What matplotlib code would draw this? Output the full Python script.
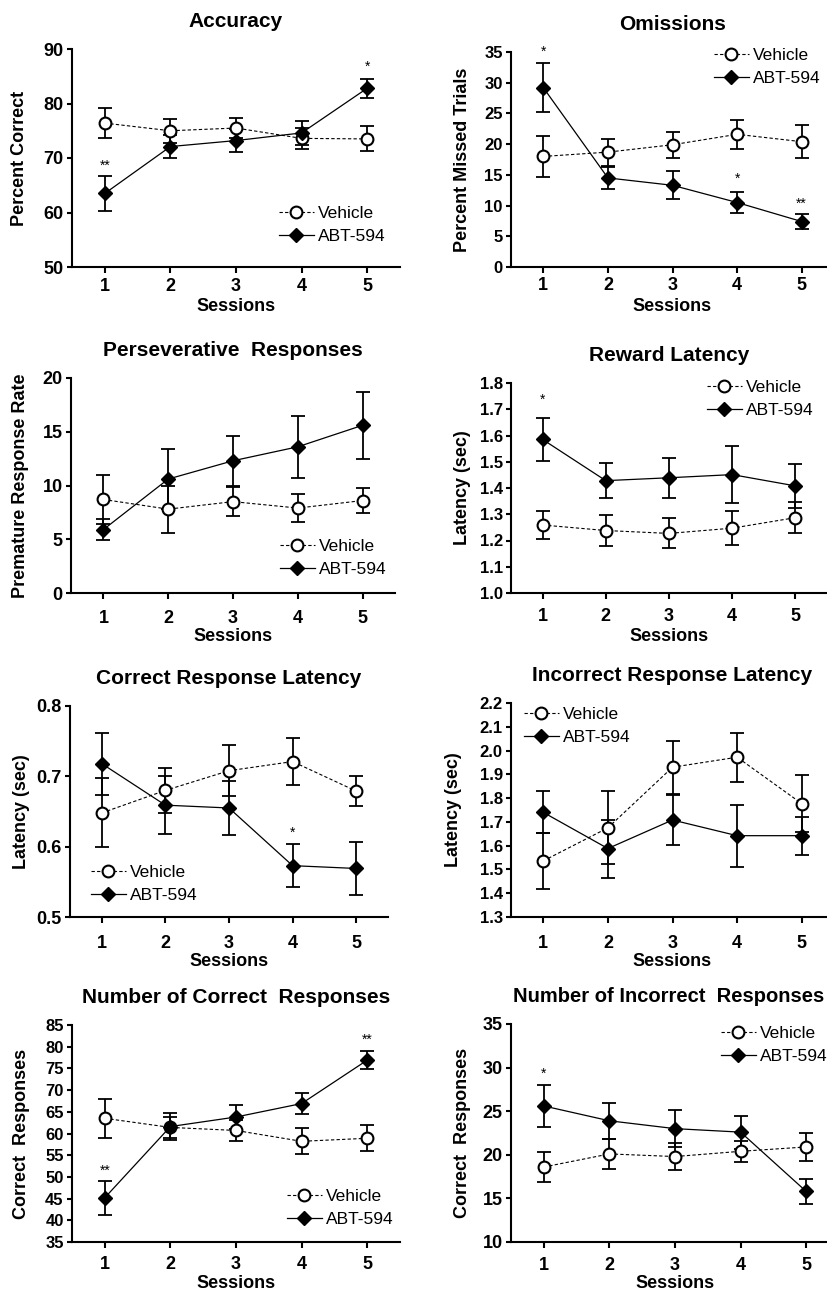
import matplotlib.pyplot as plt

plt.rcParams['font.family'] = ['Liberation Sans', 'DejaVu Sans']

sessions = [1, 2, 3, 4, 5]

titles = ["Accuracy", "Omissions", "Perseverative  Responses", "Reward Latency",
          "Correct Response Latency", "Incorrect Response Latency",
          "Number of Correct  Responses", "Number of Incorrect  Responses"]
ylabels = ["Percent Correct", "Percent Missed Trials", "Premature Response Rate",
           "Latency (sec)", "Latency (sec)", "Latency (sec)",
           "Correct  Responses", "Correct  Responses"]

vehicle_mean = [
    [76.4, 75.0, 75.5, 73.6, 73.5],
    [18.0, 18.7, 19.9, 21.6, 20.4],
    [8.7, 7.8, 8.5, 7.9, 8.6],
    [1.259, 1.238, 1.227, 1.247, 1.287],
    [0.648, 0.680, 0.708, 0.721, 0.679],
    [1.536, 1.675, 1.930, 1.972, 1.777],
    [63.5, 61.4, 60.7, 58.2, 58.9],
    [18.6, 20.1, 19.8, 20.4, 20.9],
]
vehicle_sem = [
    [2.7, 2.2, 1.8, 1.9, 2.3],
    [3.4, 2.2, 2.1, 2.4, 2.65],
    [2.25, 2.2, 1.35, 1.3, 1.2],
    [0.054, 0.058, 0.057, 0.065, 0.06],
    [0.049, 0.032, 0.036, 0.033, 0.021],
    [0.118, 0.153, 0.112, 0.103, 0.12],
    [4.5, 2.5, 2.5, 3.0, 3.0],
    [1.7, 1.75, 1.5, 1.2, 1.65],
]
abt_mean = [
    [63.5, 72.1, 73.2, 74.6, 82.8],
    [29.2, 14.5, 13.3, 10.5, 7.4],
    [5.9, 10.6, 12.3, 13.6, 15.6],
    [1.585, 1.428, 1.439, 1.451, 1.408],
    [0.718, 0.659, 0.655, 0.573, 0.569],
    [1.740, 1.588, 1.708, 1.642, 1.642],
    [45.2, 61.6, 63.8, 66.9, 76.9],
    [25.6, 23.9, 23.0, 22.6, 15.8],
]
abt_sem = [
    [3.2, 2.1, 2.1, 2.2, 1.7],
    [3.95, 1.8, 2.3, 1.75, 1.2],
    [1.0, 2.8, 2.35, 2.9, 3.1],
    [0.081, 0.067, 0.077, 0.109, 0.083],
    [0.044, 0.041, 0.039, 0.031, 0.038],
    [0.088, 0.122, 0.105, 0.13, 0.08],
    [3.9, 3.1, 2.8, 2.5, 2.1],
    [2.4, 2.05, 2.1, 1.9, 1.45],
]
# significance marks: (session, y, text)
stars = [
    [(1, 68.6, "**"), (5, 86.8, "*")],
    [(1, 35.0, "*"), (4, 14.3, "*"), (5, 10.3, "**")],
    [],
    [(1, 1.736, "*")],
    [(4, 0.620, "*")],
    [],
    [(1, 51.3, "**"), (5, 81.5, "**")],
    [(1, 29.3, "*")],
]
yticks = [
    [50, 60, 70, 80, 90],
    [0, 5, 10, 15, 20, 25, 30, 35],
    [0, 5, 10, 15, 20],
    [1.0, 1.1, 1.2, 1.3, 1.4, 1.5, 1.6, 1.7, 1.8],
    [0.5, 0.6, 0.7, 0.8],
    [1.3, 1.4, 1.5, 1.6, 1.7, 1.8, 1.9, 2.0, 2.1, 2.2],
    [35, 40, 45, 50, 55, 60, 65, 70, 75, 80, 85],
    [10, 15, 20, 25, 30, 35],
]
ytick_fmt = ["{:.0f}", "{:.0f}", "{:.0f}", "{:.1f}", "{:.1f}", "{:.1f}", "{:.0f}", "{:.0f}"]

# layout, in pixels of the 827x1294 figure
W, H = 827, 1294
boxes = [(72, 49, 400, 267), (511, 52, 834, 267), (71, 378, 395, 593), (511, 383, 827, 593),
         (70, 706, 388, 917), (511, 703, 834, 917), (72, 1025, 400, 1242), (511, 1024, 839, 1242)]
ylabel_x = [18, 461, 19, 461, 20, 452, 20, 461]
xlabel_off = [41, 41, 45, 45, 46, 46, 43, 43]
xtick_pad = [3.2, 2.5, 7.5, 6, 8.3, 8.3, 5.4, 6]
ytick_size = [13, 12, 13, 12, 13, 12, 12, 13]
title_size = [15, 15, 15, 15, 15, 15, 15, 14.5]
title_x = [0.5, 0.5, 0.5, 0.5, 0.5, 0.5, 0.5, 0.48]
legend_anchor = [(0.631, 0.28), (0.628, 1.02), (0.645, 0.252), (0.620, 1.015),
                 (0.066, 0.247), (0.040, 0.982), (0.655, 0.245), (0.640, 0.99)]

fig = plt.figure(figsize=(W / 100, H / 100), dpi=100)

for i in range(8):
    l, t, r, b = boxes[i]
    ax = fig.add_axes([l / W, 1 - b / H, (r - l) / W, (b - t) / H])

    ax.errorbar(sessions, vehicle_mean[i], yerr=vehicle_sem[i], fmt='none',
                ecolor='black', elinewidth=1.3, capsize=5, capthick=1.3, zorder=2)
    ax.errorbar(sessions, abt_mean[i], yerr=abt_sem[i], fmt='none',
                ecolor='black', elinewidth=1.3, capsize=5, capthick=1.3, zorder=2)
    ax.plot(sessions, vehicle_mean[i], color='black', lw=0.8, ls=(0, (3, 2)),
            marker='o', ms=8.5, mfc='white', mec='black', mew=1.5, label='Vehicle', zorder=3)
    ax.plot(sessions, abt_mean[i], color='black', lw=0.9, ls='-',
            marker='D', ms=6.8, mfc='black', mec='black', label='ABT-594', zorder=4)

    for s, y, txt in stars[i]:
        ax.text(s, y, txt, ha='center', va='center', fontsize=10)

    ax.set_xlim(0.5, 5.5)
    ax.set_ylim(yticks[i][0], yticks[i][-1])
    ax.set_xticks(sessions)
    ax.set_yticks(yticks[i])
    ax.set_yticklabels([ytick_fmt[i].format(v) for v in yticks[i]])
    for sp in ['top', 'right']:
        ax.spines[sp].set_visible(False)
    for sp in ['left', 'bottom']:
        ax.spines[sp].set_linewidth(1.5)
    ax.tick_params(axis='x', length=4.5, width=1.5, pad=xtick_pad[i], labelsize=13)
    ax.tick_params(axis='y', length=3.5, width=1.5, pad=2.5, labelsize=ytick_size[i])
    for lab in ax.get_xticklabels() + ax.get_yticklabels():
        lab.set_fontweight('bold')

    ax.set_title(titles[i], fontsize=title_size[i], fontweight='bold', pad=16)
    ax.title.set_x(title_x[i])
    ax.set_xlabel("Sessions", fontsize=13, fontweight='bold')
    ax.xaxis.set_label_coords(0.5, -(xlabel_off[i] - 10) / (b - t))
    ax.set_ylabel(ylabels[i], fontsize=13, fontweight='bold')
    ax.yaxis.set_label_coords((ylabel_x[i] + 10 - l) / (r - l), 0.5)

    ax.legend(loc='upper left', bbox_to_anchor=legend_anchor[i], frameon=False,
              borderpad=0, borderaxespad=0, handlelength=2.0, handletextpad=0.25,
              labelspacing=0.45, fontsize=12.5)

fig.savefig('out.png', dpi=100)
